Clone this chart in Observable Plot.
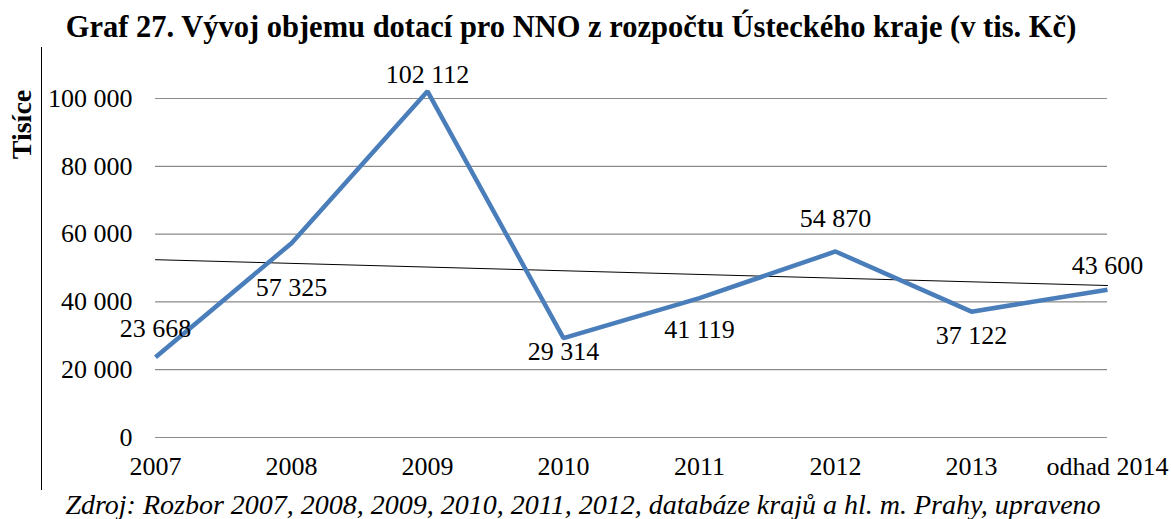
<!DOCTYPE html>
<html>
<head>
<meta charset="utf-8">
<script src="https://cdn.jsdelivr.net/npm/d3@7"></script>
<script src="https://cdn.jsdelivr.net/npm/@observablehq/plot@0.6"></script>
<style>
  html, body { margin: 0; padding: 0; background: #fff; }
  #wrap { position: relative; width: 1171px; height: 519px; overflow: hidden; font-family: "Liberation Serif", serif; }
  #title { position: absolute; left: 0; top: 12px; width: 1142px; text-align: center; font-weight: bold; font-size: 30.5px; line-height: 30px; color: #000; white-space: nowrap; }
  #chart { position: absolute; left: 0; top: 50px; }
  #caption { position: absolute; left: 0; top: 491px; width: 1166px; text-align: center; font-style: italic; font-size: 28px; line-height: 28px; color: #000; white-space: nowrap; }
  #frame { position: absolute; left: 41px; top: 47px; width: 0; height: 443px; border-left: 1.5px solid #000; }
  #chart svg text { font-family: "Liberation Serif", serif; }
</style>
</head>
<body>
<div id="wrap">
  <div id="title">Graf 27. Vývoj objemu dotací pro NNO z rozpočtu Ústeckého kraje (v tis. Kč)</div>
  <div id="frame"></div>
  <div id="chart"></div>
  <div id="caption">Zdroj: Rozbor 2007, 2008, 2009, 2010, 2011, 2012, databáze krajů a hl. m. Prahy, upraveno</div>
</div>
<script>
// ---- data ----
const years = ["2007", "2008", "2009", "2010", "2011", "2012", "2013", "odhad 2014"];
const values = [23668, 57325, 102112, 29314, 41119, 54870, 37122, 43600];
const yTicks = [0, 20000, 40000, 60000, 80000, 100000];
const yLabel = "Tisíce";

const data = years.map((year, i) => ({ i, year, value: values[i] }));

const fmt = d3.formatLocale({ decimal: ",", thousands: "\u00a0", grouping: [3], currency: ["", " Kč"] }).format(",d");

// per-label vertical offsets (px), styling only
const labelDy = [-29, 45, -17, 14, 32, -33, 24, -24];

const font = "'Liberation Serif', serif";
const fs = 26;

const chart = Plot.plot({
  width: 1171,
  height: 440,
  marginLeft: 155,
  marginRight: 64,
  marginTop: 48,
  marginBottom: 53,
  style: `font-family: ${font}; font-size: ${fs}px; color: #000; background: transparent; overflow: visible;`,
  x: { type: "linear", domain: [0, years.length - 1] },
  y: { domain: [0, 100000] },
  marks: [
    Plot.gridY(yTicks, { stroke: "#8a8a8a", strokeOpacity: 1, strokeWidth: 1.2 }),
    Plot.axisY(yTicks, { tickSize: 0, tickPadding: 23, tickFormat: fmt, label: null, fontSize: fs, fontFamily: font }),
    Plot.axisX(d3.range(years.length), { tickSize: 0, tickPadding: 19, tickFormat: (d) => years[d], label: null, fontSize: fs, fontFamily: font }),
    Plot.linearRegressionY(data, { x: "i", y: "value", ci: 0, stroke: "#000", strokeWidth: 1 }),
    Plot.line(data, { x: "i", y: "value", stroke: "#4a7ebb", strokeWidth: 4.5, strokeLinejoin: "miter", strokeLinecap: "butt" }),
    ...data.map((d, k) =>
      Plot.text([d], { x: "i", y: "value", text: (e) => fmt(e.value), dy: labelDy[k], fill: "#000", fontSize: fs, fontFamily: font, stroke: "none" })
    ),
    Plot.text([yLabel], { frameAnchor: "top-left", textAnchor: "middle", lineAnchor: "middle", text: (d) => d, rotate: -90, dx: -133, dy: 26, fontWeight: "bold", fontSize: 28, fontFamily: font, fill: "#000" })
  ]
});

document.getElementById("chart").appendChild(chart);
</script>
</body>
</html>
